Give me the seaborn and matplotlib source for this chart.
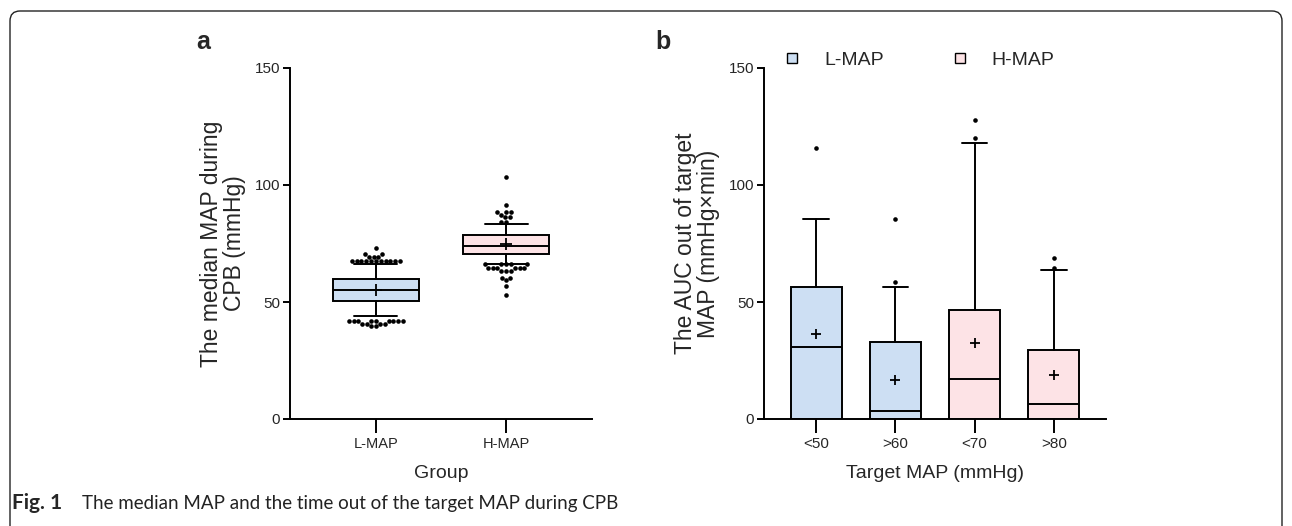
import matplotlib
matplotlib.use("Agg")
import pandas as pd
import matplotlib.pyplot as plt
import seaborn as sns
from matplotlib.lines import Line2D
from matplotlib.patches import FancyBboxPatch

# ---- panel a: median MAP during CPB ----
groups = ["L-MAP", "H-MAP"]
a_q1 = [50.4, 70.5]
a_med = [55.1, 73.9]
a_q3 = [59.8, 78.6]
a_lo = [44.0, 66.2]
a_hi = [66.2, 83.3]
a_mean = [55.0, 74.6]
l_map_points = [73.1, 70.5, 70.5, 69.2, 69.2, 69.2] + [67.5] * 11 + [42.0] * 9 + [40.8] * 4 + [39.8] * 2
h_map_points = [103.4, 91.5, 88.6, 88.6, 88.6, 87.2, 86.2, 86.2, 84.3, 84.3] + \
               [66.1] * 5 + [64.6] * 6 + [63.4] * 3 + [60.3] * 2 + [59.4, 57.0, 53.0]

# ---- panel b: AUC out of target MAP ----
targets = ["<50", ">60", "<70", ">80"]
target_group = ["L-MAP", "L-MAP", "H-MAP", "H-MAP"]
b_q1 = [0, 0, 0, 0]
b_med = [30.8, 3.4, 17.1, 6.4]
b_q3 = [56.4, 32.9, 46.6, 29.5]
b_lo = [0, 0, 0, 0]
b_hi = [85.5, 56.4, 117.9, 63.7]
b_mean = [36.3, 16.7, 32.5, 18.8]
b_outliers = [[115.8], [58.5, 85.5], [120.0, 127.8], [64.5, 68.8]]

colors = {"L-MAP": "#cddff3", "H-MAP": "#fde3e6"}

sns.set_style("ticks")
plt.rcParams['font.family'] = ['Liberation Sans', 'DejaVu Sans']
plt.rcParams['axes.linewidth'] = 1.4
plt.rcParams['xtick.major.width'] = 1.4
plt.rcParams['ytick.major.width'] = 1.4

fig = plt.figure(figsize=(12.92, 5.26), dpi=100)
ax1 = fig.add_axes([290 / 1292, 1 - 419 / 526, 302 / 1292, 351 / 526])
ax2 = fig.add_axes([764 / 1292, 1 - 419 / 526, 342 / 1292, 351 / 526])

line = dict(color="black", linewidth=1.4)


def stats_list(labels, q1, med, q3, lo, hi, mean):
    return [dict(label=lab, q1=a, med=m, q3=c, whislo=l, whishi=h, mean=mu, fliers=[])
            for lab, a, m, c, l, h, mu in zip(labels, q1, med, q3, lo, hi, mean)]


def draw_boxes(ax, stats, fills, width, meansize):
    res = ax.bxp(stats, positions=range(len(stats)), widths=width, capwidths=width / 2,
                 patch_artist=True, showmeans=True, showfliers=False,
                 boxprops=dict(edgecolor="black", linewidth=1.4),
                 medianprops=line, whiskerprops=line, capprops=line,
                 meanprops=dict(marker="+", markeredgecolor="black", markersize=meansize, mew=1.3))
    for box, fc in zip(res["boxes"], fills):
        box.set_facecolor(fc)


# panel a
draw_boxes(ax1, stats_list(groups, a_q1, a_med, a_q3, a_lo, a_hi, a_mean),
           [colors[g] for g in groups], 0.66, 9)
df_a = pd.DataFrame({
    "group": ["L-MAP"] * len(l_map_points) + ["H-MAP"] * len(h_map_points),
    "value": l_map_points + h_map_points,
})
sns.swarmplot(data=df_a, x="group", y="value", order=groups, color="black",
              size=3.3, ax=ax1, zorder=5)

# panel b
draw_boxes(ax2, stats_list(targets, b_q1, b_med, b_q3, b_lo, b_hi, b_mean),
           [colors[g] for g in target_group], 0.65, 7)
df_b = pd.DataFrame({
    "target": [t for t, vals in zip(targets, b_outliers) for _ in vals],
    "value": [v for vals in b_outliers for v in vals],
})
sns.stripplot(data=df_b, x="target", y="value", order=targets, color="black",
              size=3.3, jitter=False, ax=ax2, zorder=5)

for ax, labels, xl, yl in [
    (ax1, groups, "Group", "The median MAP during\nCPB (mmHg)"),
    (ax2, targets, "Target MAP (mmHg)", "The AUC out of target\nMAP (mmHg\u00d7min)"),
]:
    ax.set_xlim(-0.66, len(labels) - 1 + 0.66)
    ax.set_ylim(0, 150)
    ax.set_yticks([0, 50, 100, 150])
    ax.set_xticks(range(len(labels)))
    ax.set_xticklabels(labels)
    ax.set_xlabel(xl, fontsize=14, labelpad=10)
    ax.set_ylabel(yl, fontsize=16.5, labelpad=6, linespacing=1.0)
    sns.despine(ax=ax)
    ax.tick_params(axis="y", length=5, pad=2, labelsize=11, color="black")
    ax.tick_params(axis="x", length=10, pad=3, color="black")
    for s in ax.spines.values():
        s.set_color("black")
    ax.grid(False)

ax1.tick_params(axis="x", labelsize=10.5)
ax2.tick_params(axis="x", labelsize=11)

# legend for panel b
handles = [Line2D([], [], marker="s", linestyle="none", markersize=7,
                  markerfacecolor=colors[g], markeredgecolor="black", markeredgewidth=1.0)
           for g in groups]
fig.legend(handles, groups, loc="upper left", bbox_to_anchor=(765 / 1292, 1 - 34 / 526),
           ncol=2, frameon=False, fontsize=14, handlelength=1.0, handletextpad=1.15,
           columnspacing=3.4)

# panel letters
fig.text(203 / 1292, 1 - 42 / 526, "a", fontsize=18, weight="bold", ha="center", va="center")
fig.text(663 / 1292, 1 - 42 / 526, "b", fontsize=18, weight="bold", ha="center", va="center")

# rounded frame and caption
frame = FancyBboxPatch((0.10, -0.2), 12.72, 5.35, boxstyle="round,pad=0,rounding_size=0.1",
                       transform=fig.dpi_scale_trans, facecolor="none", edgecolor="#222222",
                       linewidth=1.0)
fig.patches.append(frame)

cap_y = 1 - 503 / 526
fig.text(12 / 1292, cap_y, "Fig. 1", fontsize=15, weight="bold", family="Lato", va="center")
fig.text(82 / 1292, cap_y, "The median MAP and the time out of the target MAP during CPB",
         fontsize=13.5, family="Lato", va="center", color="#222222")

fig.savefig("out.png", dpi=100)
